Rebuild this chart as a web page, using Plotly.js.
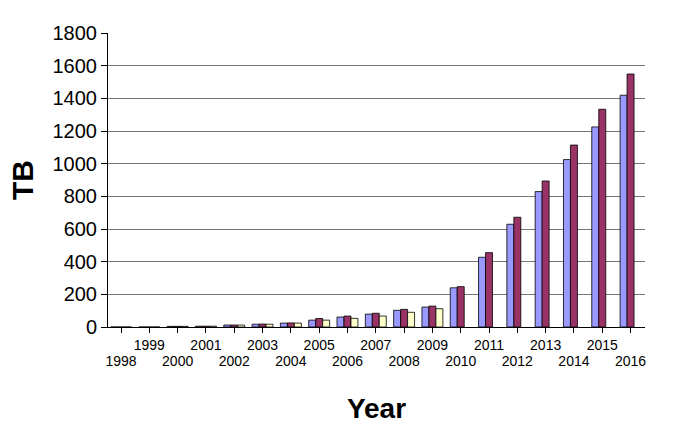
<!DOCTYPE html>
<html>
<head>
<meta charset="utf-8">
<script src="https://cdn.plot.ly/plotly-3.0.1.min.js"></script>
<style>html,body{margin:0;padding:0;background:#fff;}#chart{width:681px;height:434px;}</style>
</head>
<body>
<div id="chart"></div>
<script>
const years = [1998,1999,2000,2001,2002,2003,2004,2005,2006,2007,2008,2009,2010,2011,2012,2013,2014,2015,2016];
const seriesBlue   = [0,0,4,5,12,17,24,42,61,79,102,122,240,427,629,829,1025,1225,1419];
const seriesMaroon = [0,0,4,5,12,18,25,52,67,84,108,128,247,455,672,894,1114,1333,1549];
const seriesYellow = [0,0,4,5,12,17,24,42,53,67,90,112,null,null,null,null,null,null,null];
const yTicks = [0,200,400,600,800,1000,1200,1400,1600,1800];
const oddYears = years.filter(y => y % 2 === 1);
const evenYears = years.filter(y => y % 2 === 0);

const font = 'Liberation Sans, Arial, Helvetica, sans-serif';
const mk = (vals, color) => ({
  type: 'bar', x: years, y: vals, xaxis: 'x', yaxis: 'y',
  marker: {color: color, line: {color: '#000', width: 0.8}},
  hoverinfo: 'skip'
});
const data = [
  mk(seriesBlue, '#9999ff'),
  mk(seriesMaroon, '#993366'),
  mk(seriesYellow, '#ffffcc'),
  // invisible helper so the second (even-year label) axis is drawn
  {type: 'scatter', mode: 'markers', x: evenYears, y: evenYears.map(() => 0),
   xaxis: 'x2', yaxis: 'y', marker: {opacity: 0, size: 1}, hoverinfo: 'skip'}
];
const xr = [years[0] - 0.46, years[years.length - 1] + 0.51];
const layout = {
  width: 681, height: 434,
  margin: {l: 108, r: 36, t: 33, b: 107},
  paper_bgcolor: '#fff', plot_bgcolor: '#fff',
  showlegend: false,
  barmode: 'group', bargap: 0.26, bargroupgap: 0,
  font: {family: font, color: '#000'},
  xaxis: {
    type: 'linear', range: xr,
    tickvals: oddYears, ticktext: oddYears.map(String),
    tickfont: {size: 14, family: font},
    ticks: 'outside', ticklen: 5, tickcolor: '#000', tickwidth: 1,
    showline: true, linecolor: '#000', linewidth: 1,
    showgrid: false, zeroline: false,
    title: {text: '<b>Year</b>', font: {size: 28, family: font}, standoff: 46}
  },
  xaxis2: {
    type: 'linear', range: xr, overlaying: 'x', anchor: 'y', side: 'bottom',
    tickvals: evenYears, ticktext: evenYears.map(String),
    tickfont: {size: 14, family: font},
    ticks: 'outside', ticklen: 5, tickcolor: '#000', tickwidth: 1,
    ticklabelstandoff: 16,
    showline: false, showgrid: false, zeroline: false
  },
  yaxis: {
    range: [0, 1800], tickvals: yTicks, ticktext: yTicks.map(String),
    tickfont: {size: 20, family: font},
    ticks: 'outside', ticklen: 6, tickcolor: '#000', tickwidth: 1,
    showline: true, linecolor: '#000', linewidth: 1,
    showgrid: true, gridcolor: '#777', gridwidth: 1,
    zeroline: false,
    title: {text: '<b>TB</b>', font: {size: 30, family: font}, standoff: 10}
  }
};
Plotly.newPlot('chart', data, layout, {displayModeBar: false, staticPlot: true});
</script>
</body>
</html>
